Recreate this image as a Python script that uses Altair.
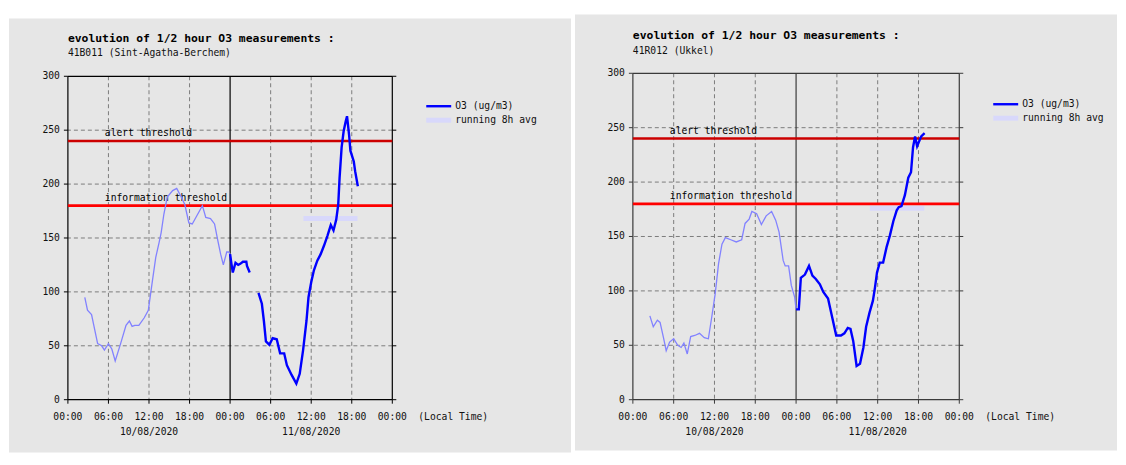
import altair as alt
import pandas as pd

FONT = "DejaVu Sans Mono"
BG = "#e6e6e6"

# ---------------- data ----------------
TITLE = "evolution of 1/2 hour O3 measurements :"
STATIONS = ["41B011 (Sint-Agatha-Berchem)", "41R012 (Ukkel)"]

X_TICKS = [0, 6, 12, 18, 24, 30, 36, 42, 48]
X_TICK_LABELS = ["00:00", "06:00", "12:00", "18:00", "00:00", "06:00", "12:00", "18:00", "00:00"]
X_GRID = [6, 12, 18, 30, 36, 42]
Y_TICKS = [0, 50, 100, 150, 200, 250, 300]
Y_GRID = [50, 100, 150, 200, 250]
DATES = ["10/08/2020", "11/08/2020"]
DATE_POS = [12, 36]
THRESH_V = [240, 180]
THRESH_LABELS = ["alert threshold", "information threshold"]
THRESH_COLORS = ["#cc0000", "#ff0000"]
LEGEND_LABELS = ["O3 (ug/m3)", "running 8h avg"]

# Left: 41B011 (Sint-Agatha-Berchem)
L_D1_H = [2.5, 2.9, 3.5, 4.4, 5.0, 5.4, 6.0, 6.5, 7.0, 7.8, 8.6, 9.1, 9.5, 9.9, 10.5, 11.3, 11.9,
          12.5, 13.0, 13.5, 13.8, 14.2, 14.7, 15.5, 16.1, 16.7, 17.3, 17.9, 18.4, 19.2, 19.9, 20.4,
          21.1, 21.7, 22.2, 22.6, 23.0, 23.5, 23.8, 24.0]
L_D1_V = [95, 83, 79, 52, 50, 46, 52, 47, 36, 52, 69, 73, 68, 69, 69, 76, 83,
          110, 132, 146, 155, 172, 188, 194, 196, 189, 181, 164, 163, 172, 180, 169,
          168, 163, 147, 135, 125, 137, 137, 135]
L_D2A_H = [24.0, 24.2, 24.4, 24.8, 25.2, 25.5, 25.9, 26.4, 26.5, 26.9]
L_D2A_V = [135, 126, 118, 127, 125, 126, 128, 128, 124, 118]
L_D2B_H = [28.2, 28.7, 29.0, 29.3, 29.8, 30.3, 30.9, 31.4, 32.0, 32.4, 33.1, 33.8, 34.3, 34.8,
           35.3, 35.6, 36.0, 36.4, 36.9, 37.4, 37.9, 38.4, 38.9, 39.3, 39.7, 40.0, 40.2, 40.5,
           40.8, 41.1, 41.3, 41.6, 41.8, 42.3, 42.5, 42.9]
L_D2B_V = [99, 89, 73, 54, 51, 57, 56, 43, 43, 32, 23, 15, 24, 46,
           73, 95, 109, 120, 129, 135, 143, 152, 162, 157, 167, 181, 206, 234,
           249, 258, 263, 246, 231, 221, 212, 198]
L_AVG_H = [34.85, 42.85]
L_AVG_V = 168

# Right: 41R012 (Ukkel)
R_D1_H = [2.5, 3.0, 3.6, 4.0, 4.5, 4.9, 5.4, 6.0, 6.6, 7.1, 7.5, 8.0, 8.5, 9.1, 9.8, 10.5, 11.1,
          11.6, 12.1, 12.6, 13.1, 13.6, 14.4, 15.2, 16.0, 16.5, 17.1, 17.5, 18.2, 18.9, 19.6,
          20.4, 21.0, 21.5, 22.1, 22.4, 22.9, 23.3, 23.8, 24.0]
R_D1_V = [77, 67, 73, 71, 57, 45, 53, 56, 50, 48, 52, 42, 58, 59, 61, 57, 56,
          76, 97, 125, 143, 149, 147, 145, 147, 162, 166, 173, 171, 161, 169,
          173, 165, 154, 128, 123, 123, 105, 94, 83]
R_D2_H = [24.0, 24.4, 24.7, 25.3, 25.9, 26.4, 26.9, 27.5, 28.0, 28.7, 29.3, 29.9, 30.6, 31.1,
          31.6, 32.0, 32.4, 32.9, 33.4, 33.9, 34.3, 34.8, 35.3, 35.6, 35.9, 36.3, 36.8, 37.3,
          37.8, 38.3, 38.8, 39.1, 39.5, 40.0, 40.5, 40.9, 41.2, 41.5, 41.8, 42.4, 42.9]
R_D2_V = [83, 83, 112, 115, 123, 114, 111, 106, 99, 93, 76, 59, 59, 61,
          66, 65, 54, 31, 33, 48, 67, 80, 91, 103, 117, 126, 126, 140,
          151, 164, 174, 177, 178, 188, 204, 209, 232, 242, 233, 242, 245]
R_AVG_H = [34.85, 42.85]
R_AVG_V = 176


def panel(station, d1h, d1v, d2_segments, avg_h, avg_v, w, h, ytop, geo, frame_color):
    xs = alt.Scale(domain=[0, 48], nice=False, zero=False)
    ys = alt.Scale(domain=[0, 300], nice=False, zero=False, range=[h, ytop])
    one = pd.DataFrame({"k": [0]})

    def X(f):
        return alt.X(f, scale=xs, axis=None)

    def Y(f):
        return alt.Y(f, scale=ys, axis=None)

    def text_at(s, x, y, size=9.7, bold=False, color="#111"):
        kw = dict(font=FONT, fontSize=size, baseline="middle", align="left", color=color)
        if bold:
            kw["fontWeight"] = "bold"
        return alt.Chart(pd.DataFrame({"s": [s]})).mark_text(**kw).encode(
            x=alt.value(x), y=alt.value(y), text="s:N")

    layers = []
    # white strip (keeps vertical alignment) and gray panel background
    if geo["by0"] > geo["top"]:
        layers.append(alt.Chart(one).mark_rect(color="white").encode(
            x=alt.value(geo["bx0"]), x2=alt.value(geo["bx1"]),
            y=alt.value(geo["top"]), y2=alt.value(geo["by0"])))
    layers.append(alt.Chart(one).mark_rect(color=BG).encode(
        x=alt.value(geo["bx0"]), x2=alt.value(geo["bx1"]),
        y=alt.value(geo["by0"]), y2=alt.value(geo["by1"])))

    # grid
    layers.append(alt.Chart(pd.DataFrame({"v": Y_GRID})).mark_rule(
        color="#7c7c7c", strokeDash=[4, 3], strokeWidth=1).encode(y=Y("v:Q")))
    layers.append(alt.Chart(pd.DataFrame({"t": X_GRID})).mark_rule(
        color="#7c7c7c", strokeDash=[4, 3], strokeWidth=1).encode(
        x=X("t:Q"), y=alt.value(ytop), y2=alt.value(h)))

    # frame: left, bottom, top, right and midnight line
    layers.append(alt.Chart(pd.DataFrame({"t": [0, 24, 48]})).mark_rule(
        color=frame_color, strokeWidth=1.2).encode(
        x=X("t:Q"), y=alt.value(ytop), y2=alt.value(h)))
    layers.append(alt.Chart(pd.DataFrame({"v": [0, 300]})).mark_rule(
        color=frame_color, strokeWidth=1.2).encode(y=Y("v:Q")))

    # ticks
    yt = pd.DataFrame({"v": Y_TICKS})
    layers.append(alt.Chart(yt).mark_rule(color=frame_color, strokeWidth=1).encode(
        y=Y("v:Q"), x=alt.value(-4), x2=alt.value(0)))
    layers.append(alt.Chart(yt).mark_rule(color=frame_color, strokeWidth=1).encode(
        y=Y("v:Q"), x=alt.value(w), x2=alt.value(w + 4)))
    xt = pd.DataFrame({"t": X_TICKS, "lab": X_TICK_LABELS})
    layers.append(alt.Chart(xt).mark_rule(color=frame_color, strokeWidth=1).encode(
        x=X("t:Q"), y=alt.value(h), y2=alt.value(h + 4)))

    # tick labels
    layers.append(alt.Chart(yt).mark_text(
        font=FONT, fontSize=9.7, baseline="middle", align="right", color="#111").encode(
        y=Y("v:Q"), x=alt.value(-8), text="v:Q"))
    layers.append(alt.Chart(xt).mark_text(
        font=FONT, fontSize=9.7, baseline="middle", align="center", color="#111").encode(
        x=X("t:Q"), y=alt.value(h + 17), text="lab:N"))

    # running 8h average
    layers.append(alt.Chart(pd.DataFrame({"a": [avg_h[0]], "b": [avg_h[1]], "v": [avg_v]})).mark_rule(
        color="#d8d8fb", strokeWidth=5).encode(x=X("a:Q"), x2="b:Q", y=Y("v:Q")))

    # thresholds
    th = pd.DataFrame({"v": THRESH_V, "lab": THRESH_LABELS, "c": THRESH_COLORS})
    layers.append(alt.Chart(th).mark_rule(strokeWidth=2.6).encode(
        y=Y("v:Q"), color=alt.Color("c:N", scale=None)))
    layers.append(alt.Chart(th).mark_text(
        font=FONT, fontSize=9.7, align="left", baseline="middle", dy=-8, color="#000").encode(
        y=Y("v:Q"), x=alt.value(37), text="lab:N"))

    # day 1 (light) and day 2 (bold)
    layers.append(alt.Chart(pd.DataFrame({"t": d1h, "v": d1v})).mark_line(
        color="#8282ff", strokeWidth=1.3).encode(x=X("t:Q"), y=Y("v:Q")))
    rows = []
    for i, (hh, vv) in enumerate(d2_segments):
        for a, b in zip(hh, vv):
            rows.append({"t": a, "v": b, "seg": i})
    layers.append(alt.Chart(pd.DataFrame(rows)).mark_line(
        color="#0000ff", strokeWidth=2.4).encode(x=X("t:Q"), y=Y("v:Q"), detail="seg:N"))

    # date labels and unit
    layers.append(alt.Chart(pd.DataFrame({"t": DATE_POS, "d": DATES})).mark_text(
        font=FONT, fontSize=9.7, baseline="middle", align="center", color="#111").encode(
        x=X("t:Q"), y=alt.value(h + 32), text="d:N"))
    layers.append(text_at("(Local Time)", w + 26, h + 17))

    # titles
    layers.append(text_at(TITLE, 0, geo["title_y"], size=11.4, bold=True, color="#000"))
    layers.append(text_at(station, 0, geo["sub_y"]))

    # legend
    lx = geo["leg_x"]
    ly = geo["leg_y"]
    layers.append(alt.Chart(one).mark_rule(color="#0000ff", strokeWidth=2.4).encode(
        x=alt.value(lx), x2=alt.value(lx + 25), y=alt.value(ly)))
    layers.append(alt.Chart(one).mark_rule(color="#d8d8fb", strokeWidth=5).encode(
        x=alt.value(lx), x2=alt.value(lx + 25), y=alt.value(ly + 14)))
    layers.append(text_at(LEGEND_LABELS[0], lx + 29, ly))
    layers.append(text_at(LEGEND_LABELS[1], lx + 29, ly + 14))

    return alt.layer(*layers).properties(width=w, height=h)


left = panel(STATIONS[0], L_D1_H, L_D1_V,
             [(L_D2A_H, L_D2A_V), (L_D2B_H, L_D2B_V)], L_AVG_H, L_AVG_V,
             325, 324, 0,
             dict(bx0=-59, bx1=504, top=-62, by0=-58, by1=377,
                  title_y=-37, sub_y=-23, leg_x=359, leg_y=30),
             "#000000")
right = panel(STATIONS[1], R_D1_H, R_D1_V,
              [(R_D2_H, R_D2_V)], R_AVG_H, R_AVG_V,
              327, 324, -3,
              dict(bx0=-58, bx1=485, top=-62, by0=-62, by1=375,
                   title_y=-40, sub_y=-25, leg_x=361, leg_y=28),
              "#3a3a3a")

chart = alt.hconcat(left, right, spacing=2).properties(
    padding={"left": 0, "top": 5, "right": 0, "bottom": 0}
).configure_view(stroke="transparent").configure(background="white")

chart.save("out.html", embed_options={"renderer": "svg", "actions": False})
